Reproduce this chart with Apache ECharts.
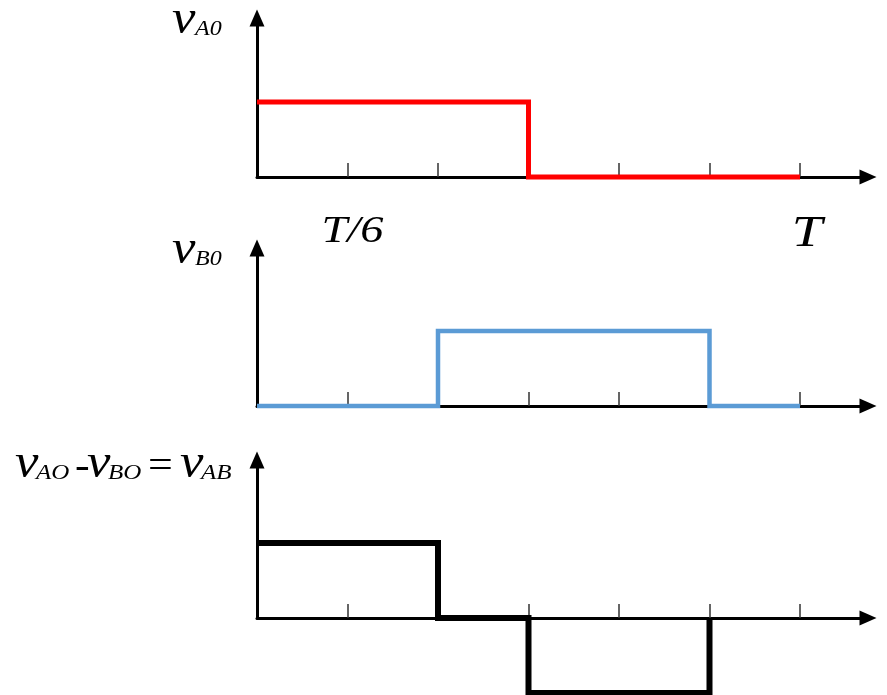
<!DOCTYPE html>
<html>
<head>
<meta charset="utf-8">
<script src="https://cdn.jsdelivr.net/npm/echarts@6/dist/echarts.min.js"></script>
<style>html,body{margin:0;padding:0;background:#fff}#c{width:887px;height:695px}</style>
</head>
<body>
<div id="c"></div>
<script>
// ---- data (x in units of T/6) ----
const tickValues = [1, 2, 3, 4, 5, 6];
const tickLabelValues = [1, 6];
const tickLabels = ['T/6', 'T'];
const vA0_x = [0, 3, 6];
const vA0_y = [1, 0, 0];
const vB0_x = [0, 2, 5, 6];
const vB0_y = [0, 1, 0, 0];
const vAB_x = [0, 2, 3, 5];
const vAB_y = [1, 0, -1, 0];

// ---- layout ----
const X0 = 257, XUNIT = 90.5, XEND = 868;
const XMAX = (XEND - X0) / XUNIT;
const YUNIT = 75;
const panels = [
  { zero: 177, top: 18 },
  { zero: 406, top: 248 },
  { zero: 618, top: 460 }
];
const SERIF = 'Liberation Serif';

const chart = echarts.init(document.getElementById('c'), null, { renderer: 'canvas' });
const grids = [], xAxes = [], yAxes = [], series = [];
const sig = [[vA0_x, vA0_y, '#ff0000', 5], [vB0_x, vB0_y, '#5b9bd5', 4.5], [vAB_x, vAB_y, '#000000', 6]];
panels.forEach((p, i) => {
  const h = p.zero - p.top;
  grids.push({ left: X0, top: p.top, width: XEND - X0, height: h });
  xAxes.push({
    gridIndex: i, type: 'value', min: 0, max: XMAX,
    axisLine: { onZero: false, lineStyle: { color: '#000', width: 3 }, symbol: ['none', 'triangle'], symbolSize: [15, 17] },
    axisTick: { show: true, inside: true, length: 14, customValues: tickValues, lineStyle: { color: '#333', width: 1.5 } },
    axisLabel: { show: false },
    splitLine: { show: false }
  });
  yAxes.push({
    gridIndex: i, type: 'value', min: 0, max: h / YUNIT,
    axisLine: { show: true, onZero: false, lineStyle: { color: '#000', width: 3 }, symbol: ['none', 'triangle'], symbolSize: [15, 17] },
    axisTick: { show: false }, axisLabel: { show: false }, splitLine: { show: false }
  });
  const s = sig[i];
  series.push({
    type: 'line', xAxisIndex: i, yAxisIndex: i, step: 'end', clip: false,
    symbol: 'none', data: s[0].map((x, k) => [x, s[1][k]]),
    lineStyle: { color: s[2], width: s[3], join: 'miter', cap: 'butt' },
    z: 5, animation: false
  });
});

chart.setOption({ animation: false, grid: grids, xAxis: xAxes, yAxis: yAxes, series: series });

// lettering: [text, left x, baseline, kind, horizontal stretch]
const kinds = {
  v: { size: 48, italic: true },
  s: { size: 20, italic: true },
  o: { size: 40, italic: false }
};
function piece(t, x, base, kind, sx) {
  const k = kinds[kind];
  return {
    type: 'text', x: x, y: base - 0.34 * k.size + 4, scaleX: sx,
    style: { text: t, x: 0, y: 0, align: 'left', verticalAlign: 'middle', fontFamily: SERIF,
      fontStyle: k.italic ? 'italic' : 'normal', fontSize: k.size, fill: '#000' }
  };
}
const graphics = [
  piece('v', 172, 33, 'v', 1.1), piece('A0', 195, 33, 's', 1.2),
  piece('v', 172, 263, 'v', 1.1), piece('B0', 195, 263, 's', 1.2),
  piece('v', 15, 477, 'v', 1.1), piece('AO', 36, 477, 's', 1.25), piece('-', 75, 477, 'o', 1.1),
  piece('v', 87, 477, 'v', 1.1), piece('BO', 108, 477, 's', 1.25), piece('=', 148, 477, 'o', 1.1),
  piece('v', 180, 477, 'v', 1.1), piece('AB', 201, 477, 's', 1.25)
];
// tick labels under the first panel, placed through the x scale
const tlSize = [38, 45], tlShift = [5, 7], tlBase = [245, 249];
tickLabelValues.forEach((v, k) => {
  const px = chart.convertToPixel({ xAxisIndex: 0 }, v);
  graphics.push({
    type: 'text', x: px + tlShift[k], y: tlBase[k] - 0.34 * tlSize[k], scaleX: 1.22,
    style: { text: tickLabels[k], x: 0, y: 0, align: 'center', verticalAlign: 'middle', fontFamily: SERIF,
      fontStyle: 'italic', fontSize: tlSize[k], fill: '#000' }
  });
});
chart.setOption({ graphic: graphics });
</script>
</body>
</html>
